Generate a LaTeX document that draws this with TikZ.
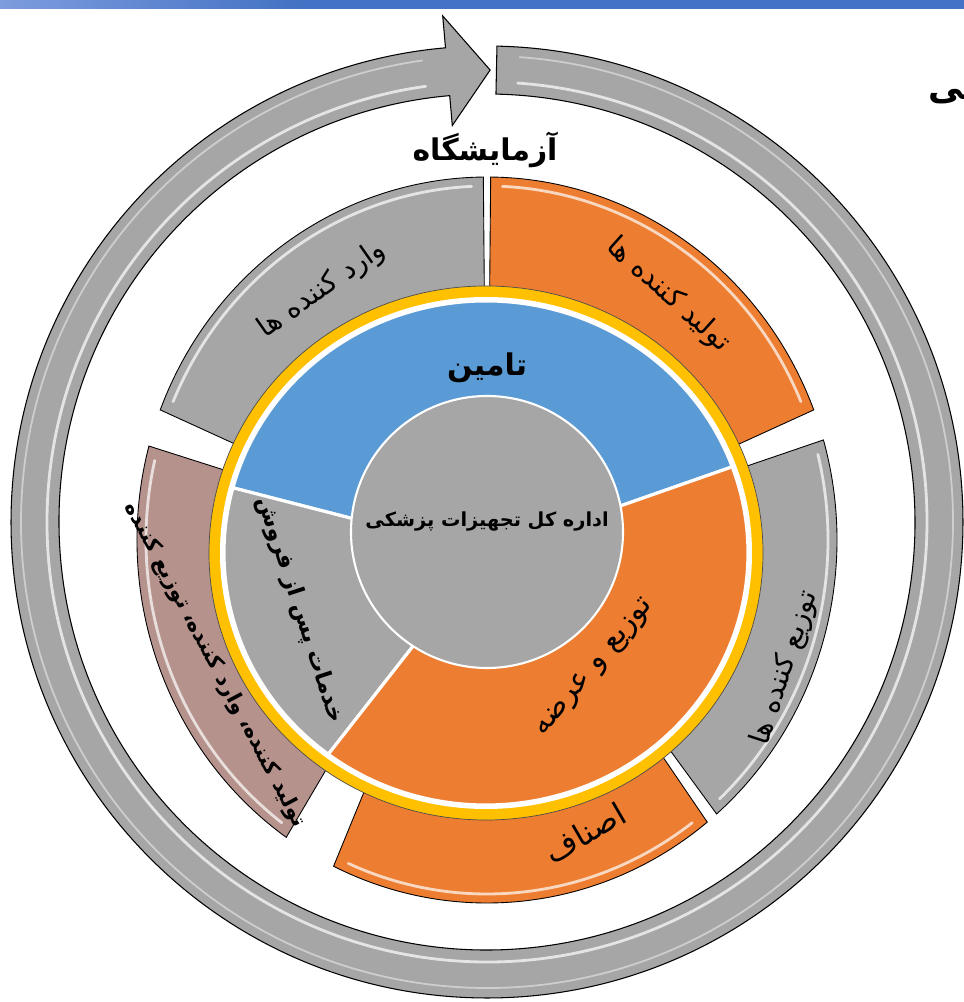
\documentclass[tikz,border=0pt]{standalone}
\usepackage{fontspec}
\usepackage{xcolor}
\newfontfamily\arabicfont[Script=Arabic]{DejaVu Sans}
\TeXXeTstate=1
\definecolor{segGray}{HTML}{A6A6A6}
\definecolor{segOrange}{HTML}{ED7D31}
\definecolor{segBlue}{HTML}{5B9BD5}
\definecolor{ringGold}{HTML}{FFC000}
\definecolor{segBrown}{RGB}{181,146,140}
\definecolor{barBlue}{HTML}{4472C4}
\definecolor{barLight}{HTML}{7D9CDE}

\begin{document}
\begin{tikzpicture}[x=0.02cm, y=0.02cm,
    segment/.style={draw=black, line width=0.5pt},
    shine/.style={draw=white, line width=1.6pt, opacity=0.7, line cap=round},
    pieslice/.style={draw=white, line width=1.8pt},
    seglabel/.style={font=\arabicfont\fontsize{16}{19}\selectfont, inner sep=0pt},
    pielabel/.style={font=\arabicfont\bfseries\fontsize{15}{18}\selectfont, inner sep=0pt}
    ]
\useasboundingbox (0,0) rectangle (964,1002);
\clip (0,0) rectangle (964,1002);
\fill[white] (0,0) rectangle (964,1002);
\shade[left color=barLight, right color=barBlue] (0,993) rectangle (300,1002);
\fill[barBlue] (299,993) rectangle (964,1002);

% round arrow
\begin{scope}[shift={(487,480)}]
\path[fill=segGray, draw=black, line width=0.6pt] (88.8:476) arc[start angle=88.8, end angle=-265, radius=476]
  -- (-265:508) -- (-270.4:452) -- (-265:398) -- (-265:428)
  arc[start angle=-265, end angle=88.8, radius=428] -- cycle;
\draw[shine] (86:440) arc[start angle=86, end angle=-262, radius=440];
\draw[shine, line width=1pt, opacity=0.45] (86:466) arc[start angle=86, end angle=-262, radius=466];
\end{scope}

% outer sectors
\begin{scope}[shift={(487,462)}]
\foreach \a/\b/\c in {90.6/159/segGray, 21/89.4/segOrange, -49/16/segGray, -116/-51/segOrange, 165/235/segBrown}{
  \path[segment, fill=\c] (\a:350 and 363) arc[start angle=\a, end angle=\b, x radius=350, y radius=363]
    -- (\b:255 and 250) arc[start angle=\b, end angle=\a, x radius=255, y radius=250] -- cycle;
  \draw[shine] (\a+2:341 and 354) arc[start angle=\a+2, end angle=\b-2, x radius=341, y radius=354];
}
\end{scope}

% inner pie
\begin{scope}[shift={(486,449)}]
\path[fill=ringGold, draw=black!70, line width=0.4pt] (0,0) ellipse[x radius=277, y radius=267];
\fill[white] (0,0) ellipse[x radius=266, y radius=256];
\foreach \a/\b/\c in {20/165/segBlue, 165/233/segGray, 233/380/segOrange}
  \path[pieslice, fill=\c] (0,0) -- (\a:262 and 252) arc[start angle=\a, end angle=\b, x radius=262, y radius=252] -- cycle;
\end{scope}
\path[fill=segGray, draw=white, line width=1.2pt] (487,470) circle[radius=136];

% texts
\node[font=\arabicfont\bfseries\fontsize{17}{20}\selectfont, inner sep=0pt] (lab) at (485,852) {\beginR آزمایشگاه\endR};
\node[font=\arabicfont\bfseries\fontsize{20}{24}\selectfont, inner sep=0pt, anchor=west] (cut) at (928,905) {\beginR ـی\endR};
\node[seglabel, rotate=35] (importers) at (322,712) {\beginR وارد کننده ها\endR};
\node[seglabel, rotate=-42] (producers) at (668,707) {\beginR تولید کننده ها\endR};
\node[seglabel, rotate=72] (distributors) at (785,334) {\beginR توزیع کننده ها\endR};
\node[seglabel, font=\arabicfont\fontsize{18}{21}\selectfont, rotate=30] (guilds) at (585,169) {\beginR اصناف\endR};
\node[pielabel, font=\arabicfont\bfseries\fontsize{12}{14}\selectfont, rotate=-62] (allthree) at (215,337) {\beginR تولید کننده، وارد کننده، توزیع کننده\endR};
\node[pielabel, font=\arabicfont\bfseries\fontsize{17}{20}\selectfont] (supply) at (487,634) {\beginR تامین\endR};
\node[pielabel, font=\arabicfont\bfseries\fontsize{11}{13}\selectfont] (hub) at (487,480) {\beginR اداره کل تجهیزات پزشکی\endR};
\node[pielabel, font=\arabicfont\bfseries\fontsize{13}{16}\selectfont, rotate=-72] (aftersales) at (300,392) {\beginR خدمات پس از فروش\endR};
\node[seglabel, font=\arabicfont\fontsize{17}{20}\selectfont, rotate=50] (distrib) at (595,334) {\beginR توزیع و عرضه\endR};
\end{tikzpicture}
\end{document}
